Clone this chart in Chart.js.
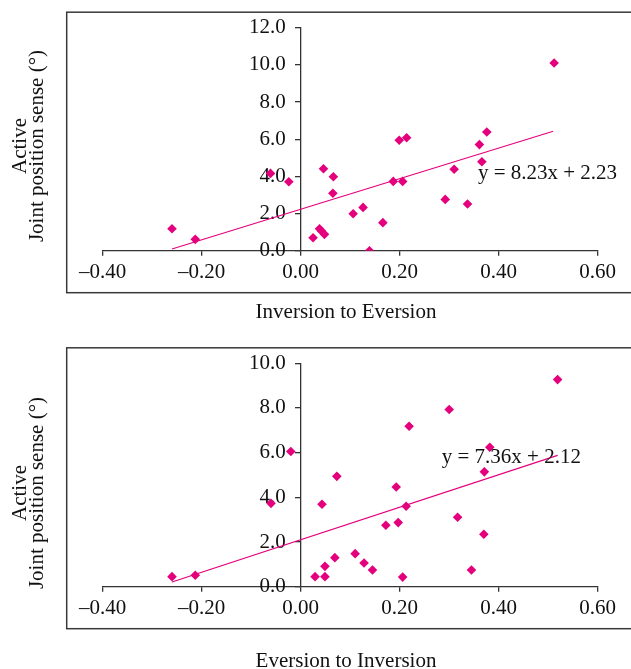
<!DOCTYPE html>
<html>
<head>
<meta charset="utf-8">
<script src="https://cdn.jsdelivr.net/npm/chart.js@4/dist/chart.umd.min.js"></script>
<style>
body{margin:0;background:#fff;}
canvas{display:block;position:absolute;left:0;}
#c1{top:0;}
#c2{top:330px;}
</style>
</head>
<body>
<canvas id="c1" width="631" height="330"></canvas>
<canvas id="c2" width="631" height="339"></canvas>
<script>
var xTicks=[-0.4,-0.2,0,0.2,0.4,0.6];
var xTickLabels=["\u20130.40","\u20130.20","0.00","0.20","0.40","0.60"];
var yTicks1=[0,2,4,6,8,10,12];
var yTickLabels1=["0.0","2.0","4.0","6.0","8.0","10.0","12.0"];
var yTicks2=[0,2,4,6,8,10];
var yTickLabels2=["0.0","2.0","4.0","6.0","8.0","10.0"];

// inversion to eversion
var invX=[-0.260,-0.213,-0.061,-0.024,0.025,0.038,0.042,0.048,0.046,0.066,0.065,0.106,0.126,0.139,0.166,0.187,0.206,0.199,0.214,0.292,0.310,0.337,0.361,0.366,0.376,0.512];
var invY=[1.18,0.61,4.16,3.71,0.70,1.18,1.06,0.88,4.41,3.98,3.09,1.99,2.33,0.00,1.51,3.73,3.73,5.94,6.08,2.76,4.38,2.51,5.71,4.79,6.39,10.10];
var invTrendX=[-0.26,0.51];
var invTrendY=[0.09,6.43];
var invEquation="y = 8.23x + 2.23";

// eversion to inversion
var evX=[-0.260,-0.213,-0.060,-0.020,0.029,0.049,0.049,0.043,0.069,0.073,0.110,0.128,0.145,0.172,0.197,0.193,0.206,0.213,0.219,0.300,0.317,0.345,0.370,0.371,0.382,0.519];
var evY=[0.45,0.51,3.73,6.05,0.45,0.45,0.91,3.69,1.30,4.94,1.48,1.06,0.75,2.75,2.87,4.46,0.43,3.60,7.18,7.93,3.11,0.75,2.35,5.14,6.24,9.27];
var evTrendX=[-0.26,0.519];
var evTrendY=[0.21,5.88];
var evEquation="y = 7.36x + 2.12";

var pink="#E4007C";
var axisColor="#333333";
var fontFamily="'Liberation Serif', 'Times New Roman', serif";

var framePlugin={
	id:'frame',
	beforeDraw:function(chart){
		// y labels sit right on the crossing axis, push them left of the tick marks
		var items=chart.scales.y.getLabelItems(chart.chartArea);
		for(var i=0;i<items.length;i++){
			if(!items[i].moved){
				items[i].options.translation[0]-=15;
				items[i].moved=true;
			}
		}
	},
	afterDraw:function(chart,args,opts){
		var ctx=chart.ctx;
		var a=chart.chartArea;
		var xs=chart.scales.x, ys=chart.scales.y;
		var boxTop=a.top-15.5, boxBottom=a.bottom+42, boxLeft=a.left-36;
		ctx.save();
		ctx.strokeStyle="#3a3a3a";
		ctx.lineWidth=1.5;
		ctx.strokeRect(boxLeft,boxTop,chart.width-boxLeft+2,boxBottom-boxTop);
		ctx.fillStyle="#111";
		ctx.font="21px "+fontFamily;
		ctx.textAlign="left";
		ctx.textBaseline="middle";
		ctx.fillText(opts.equation,xs.getPixelForValue(opts.eqAt[0]),ys.getPixelForValue(opts.eqAt[1]));
		ctx.textAlign="center";
		ctx.fillText(opts.xTitle,346,boxBottom+opts.xTitleGap);
		ctx.translate(20,opts.yTitleMid);
		ctx.rotate(-Math.PI/2);
		ctx.fillText("Active",0,0);
		ctx.fillText("Joint position sense (\u00b0)",0,17);
		ctx.restore();
	}
};

function scatterChart(id,xs,ys,trendX,trendY,yTicks,yLabels,yMax,padding,frameOpts){
	var points=[];
	for(var i=0;i<xs.length;i++){
		points.push({x:xs[i],y:ys[i]});
	}
	var trend=[];
	for(var j=0;j<trendX.length;j++){
		trend.push({x:trendX[j],y:trendY[j]});
	}
	var tickFont={family:fontFamily,size:21};
	return new Chart(document.getElementById(id).getContext('2d'),{
		type:'scatter',
		data:{
			datasets:[{
				data:points,
				pointStyle:'rectRot',
				pointRadius:4.8,
				backgroundColor:pink,
				borderWidth:0
			},{
				data:trend,
				showLine:true,
				pointRadius:0,
				borderColor:pink,
				borderWidth:1.2
			}]
		},
		options:{
			responsive:false,
			devicePixelRatio:1,
			animation:false,
			layout:{padding:padding},
			plugins:{
				legend:{display:false},
				tooltip:{enabled:false},
				frame:frameOpts
			},
			scales:{
				x:{
					type:'linear',
					position:'bottom',
					min:-0.4,
					max:0.6,
					afterBuildTicks:function(s){ s.ticks=xTicks.map(function(v){return {value:v};}); },
					afterFit:function(s){ s.height=42; },
					ticks:{
						callback:function(v,i){ return xTickLabels[i]; },
						font:tickFont,
						color:"#111",
						padding:4,
						maxRotation:0,
						autoSkip:false
					},
					grid:{display:true,drawOnChartArea:false,drawTicks:true,tickLength:5,color:axisColor,lineWidth:1.3},
					border:{display:true,color:axisColor,width:1.3}
				},
				y:{
					type:'linear',
					position:{x:0},
					min:0,
					max:yMax,
					afterBuildTicks:function(s){ s.ticks=yTicks.map(function(v){return {value:v};}); },
					ticks:{
						callback:function(v,i){ return yLabels[i]; },
						font:tickFont,
						color:"#111",
						padding:10,
						autoSkip:false
					},
					grid:{display:true,drawOnChartArea:false,drawTicks:true,tickLength:5,color:axisColor,lineWidth:1.3},
					border:{display:true,color:axisColor,width:1.3}
				}
			}
		},
		plugins:[framePlugin]
	});
}

var chart1=scatterChart("c1",invX,invY,invTrendX,invTrendY,yTicks1,yTickLabels1,12,
	{left:102.7,right:33.3,top:27.7,bottom:37.3},
	{equation:invEquation,eqAt:[0.358,4.13],xTitle:"Inversion to Eversion",xTitleGap:20,yTitleMid:146});
var chart2=scatterChart("c2",evX,evY,evTrendX,evTrendY,yTicks2,yTickLabels2,10,
	{left:102.7,right:33.3,top:33.3,bottom:40.3},
	{equation:evEquation,eqAt:[0.285,5.79],xTitle:"Eversion to Inversion",xTitleGap:33,yTitleMid:163});
</script>
</body>
</html>
